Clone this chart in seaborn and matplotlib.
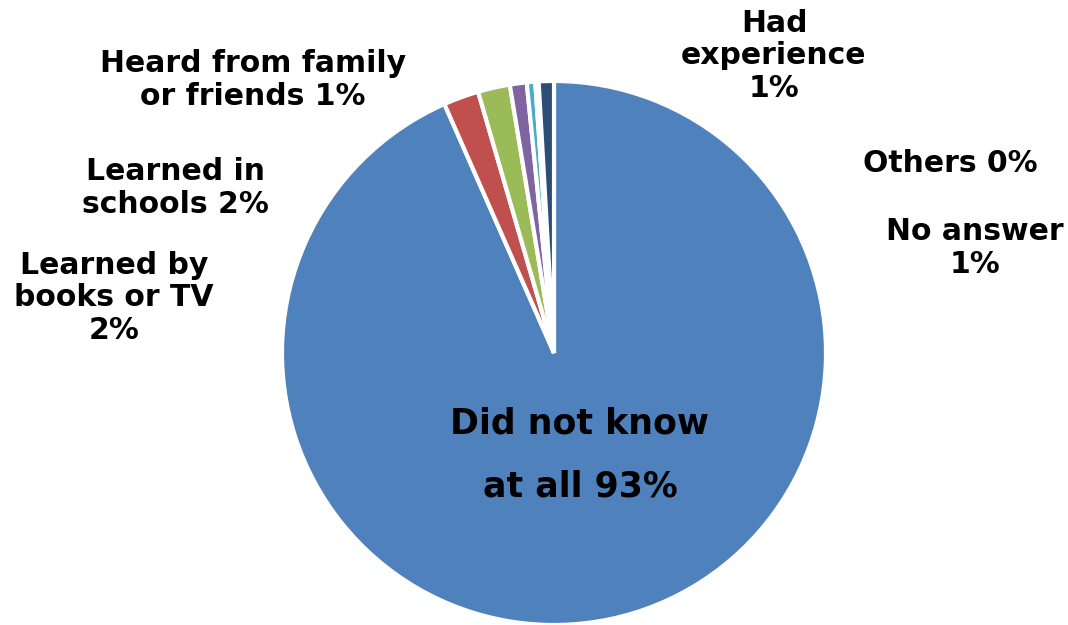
import matplotlib
matplotlib.use("Agg")
import matplotlib.pyplot as plt
import seaborn as sns

sns.set_theme(style="white")
plt.rcParams['font.family'] = ['DejaVu Sans']

categories = ["Did not know\nat all", "Learned by\nbooks or TV", "Learned in\nschools",
              "Heard from family\nor friends", "Had\nexperience", "Others", "No answer"]
values = [93.4, 2.1, 1.9, 1.0, 0.5, 0.2, 0.9]
pct_labels = ["93%", "2%", "2%", "1%", "1%", "0%", "1%"]
colors = ["#4F81BD", "#C0504D", "#9BBB59", "#8064A2", "#4BACC6", "#F79646", "#2C4D75"]

W, H = 1068, 625
fig = plt.figure(figsize=(W / 100, H / 100), dpi=100)
ax = fig.add_axes([0, 0, 1, 1])

cx, cy, R = 554, 353, 272
ax.pie(values, colors=colors, startangle=90, counterclock=False,
       wedgeprops=dict(edgecolor="white", linewidth=3))
ax.set_xlim(-cx / R, (W - cx) / R)
ax.set_ylim((cy - H) / R, cy / R)
ax.set_aspect("auto")
ax.axis("off")

# label layout (pixel centers in the figure)
label_text = [
    "Did not know\nat all 93%",
    "Learned by\nbooks or TV\n2%",
    "Learned in\nschools 2%",
    "Heard from family\nor friends 1%",
    "Had\nexperience\n1%",
    "Others 0%",
    "No answer\n1%",
]
label_px = [(580, 455), (114, 298), (175, 188), (253, 80), (774, 56), (950, 164), (975, 248)]
for i, (txt, (px, py)) in enumerate(zip(label_text, label_px)):
    fs = 25 if i == 0 else 21.5
    ls = 2.05 if i == 0 else 1.16
    fig.text(px / W, 1 - py / H, txt, ha="center", va="center", fontsize=fs,
             fontweight="bold", color="black", linespacing=ls, multialignment="center")

fig.savefig("out.png", dpi=100)
